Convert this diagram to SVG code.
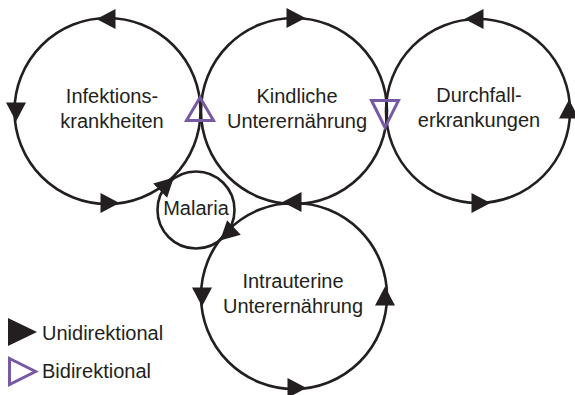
<svg xmlns="http://www.w3.org/2000/svg" xmlns:xlink="http://www.w3.org/1999/xlink" width="575" height="395" viewBox="0 0 575 395">
<style>
.ring{fill:none;stroke:#231f20;stroke-width:2.6}
.lbl{font-family:"Liberation Sans",Arial,sans-serif;font-size:20px;fill:#231f20;text-anchor:middle}
.leg{font-family:"Liberation Sans",Arial,sans-serif;font-size:20px;fill:#231f20}
.ah{fill:#231f20}
.bi{fill:none;stroke:#7759a4;stroke-width:3;stroke-linejoin:miter}
</style>
<defs>
<path id="arr" d="M9.5,0 L-9.5,-10 L-9.5,10 Z"/>
</defs>
<rect width="575" height="395" fill="#ffffff"/>
<g id="infektionskrankheiten">
<circle class="ring" cx="107.5" cy="111" r="93"/>
<text class="lbl" x="112" y="103">Infektions-</text>
<text class="lbl" x="112" y="128">krankheiten</text>
</g>
<g id="kindliche-unterernaehrung">
<circle class="ring" cx="294" cy="111" r="93"/>
<text class="lbl" x="297" y="103">Kindliche</text>
<text class="lbl" x="297" y="128">Unterernährung</text>
</g>
<g id="durchfallerkrankungen">
<circle class="ring" cx="478" cy="111" r="92"/>
<text class="lbl" x="479" y="102">Durchfall-</text>
<text class="lbl" x="479" y="127">erkrankungen</text>
</g>
<g id="intrauterine-unterernaehrung">
<circle class="ring" cx="294" cy="296" r="93"/>
<text class="lbl" x="293" y="288">Intrauterine</text>
<text class="lbl" x="293" y="313">Unterernährung</text>
</g>
<g id="malaria">
<circle class="ring" cx="196" cy="210" r="38.5"/>
<text class="lbl" x="196" y="215">Malaria</text>
</g>
<g id="connectors">
<use xlink:href="#arr" class="ah" transform="translate(106,19) rotate(180)"/>
<use xlink:href="#arr" class="ah" transform="translate(16,112) rotate(90)"/>
<use xlink:href="#arr" class="ah" transform="translate(110,203) rotate(0)"/>
<use xlink:href="#arr" class="ah" transform="translate(167,184) rotate(-44)"/>
<use xlink:href="#arr" class="ah" transform="translate(296,18) rotate(0)"/>
<use xlink:href="#arr" class="ah" transform="translate(292,202) rotate(180)"/>
<use xlink:href="#arr" class="ah" transform="translate(474,19) rotate(180)"/>
<use xlink:href="#arr" class="ah" transform="translate(569,109) rotate(-90)"/>
<use xlink:href="#arr" class="ah" transform="translate(481,203) rotate(0)"/>
<use xlink:href="#arr" class="ah" transform="translate(202,297) rotate(90)"/>
<use xlink:href="#arr" class="ah" transform="translate(385,296) rotate(-90)"/>
<use xlink:href="#arr" class="ah" transform="translate(297,388) rotate(0)"/>
<use xlink:href="#arr" class="ah" transform="translate(227,234) rotate(137)"/>
<path class="bi" d="M200,97.5 L213.5,120.5 L186.5,120.5 Z"/>
<path class="bi" d="M385,127.5 L371.5,100.5 L398.5,100.5 Z"/>
</g>
<g id="legend">
<path d="M8,318 L37,332 L8,346 Z" fill="#231f20"/>
<text class="leg" x="42" y="340">Unidirektional</text>
<path class="bi" d="M9.5,358.5 L35.5,371.5 L9.5,384.5 Z"/>
<text class="leg" x="42" y="378">Bidirektional</text>
</g>
</svg>
